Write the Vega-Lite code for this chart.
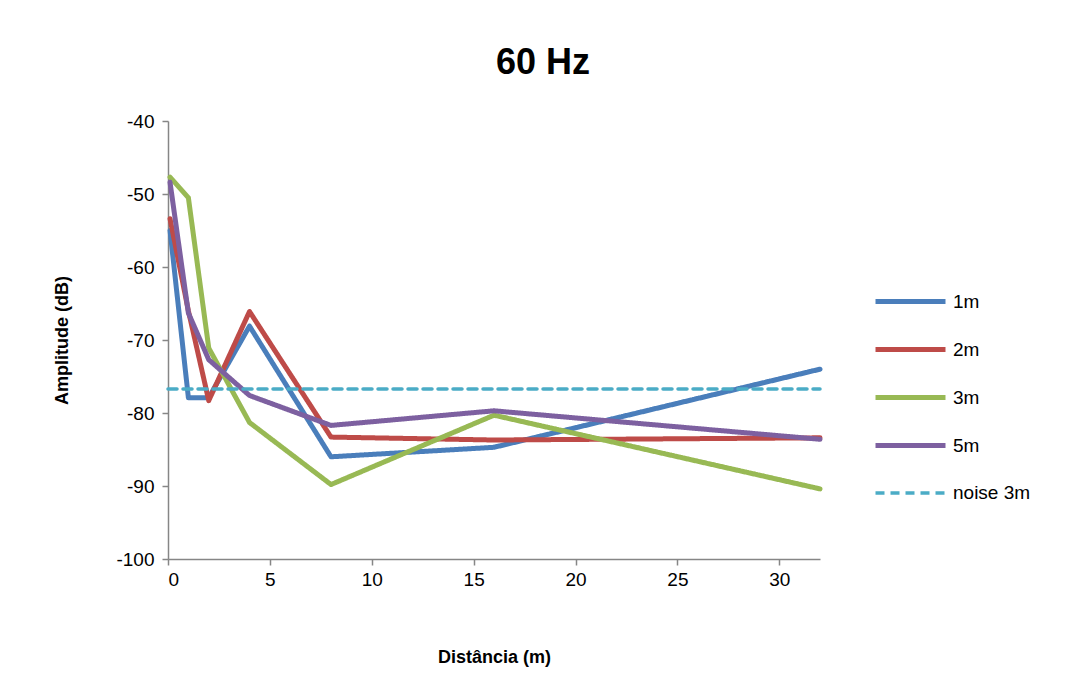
{
  "$schema": "https://vega.github.io/schema/vega-lite/v6.json",
  "autosize": "none",
  "width": 652,
  "height": 438,
  "padding": {"left": 168, "top": 121, "right": 250, "bottom": 138},
  "background": "white",
  "config": {
    "view": {"stroke": null},
    "font": "Liberation Sans"
  },
  "title": {
    "text": "60 Hz",
    "fontSize": 36,
    "fontWeight": "bold",
    "font": "Liberation Sans",
    "color": "#000000",
    "anchor": "middle",
    "dx": 49,
    "offset": 30
  },
  "data": {
    "values": [
      {"serie": "1m", "d": 0.1, "a": -55.0},
      {"serie": "1m", "d": 1, "a": -77.9},
      {"serie": "1m", "d": 2, "a": -77.9},
      {"serie": "1m", "d": 4, "a": -68.1},
      {"serie": "1m", "d": 8, "a": -86.0},
      {"serie": "1m", "d": 16, "a": -84.7},
      {"serie": "1m", "d": 32, "a": -74.0},
      {"serie": "2m", "d": 0.1, "a": -53.4},
      {"serie": "2m", "d": 1, "a": -66.0},
      {"serie": "2m", "d": 2, "a": -78.3},
      {"serie": "2m", "d": 4, "a": -66.1},
      {"serie": "2m", "d": 8, "a": -83.3},
      {"serie": "2m", "d": 16, "a": -83.7},
      {"serie": "2m", "d": 32, "a": -83.4},
      {"serie": "3m", "d": 0.1, "a": -47.7},
      {"serie": "3m", "d": 1, "a": -50.5},
      {"serie": "3m", "d": 2, "a": -71.1},
      {"serie": "3m", "d": 4, "a": -81.3},
      {"serie": "3m", "d": 8, "a": -89.8},
      {"serie": "3m", "d": 16, "a": -80.3},
      {"serie": "3m", "d": 32, "a": -90.4},
      {"serie": "5m", "d": 0.1, "a": -48.4},
      {"serie": "5m", "d": 1, "a": -66.3},
      {"serie": "5m", "d": 2, "a": -72.7},
      {"serie": "5m", "d": 4, "a": -77.6},
      {"serie": "5m", "d": 8, "a": -81.7},
      {"serie": "5m", "d": 16, "a": -79.7},
      {"serie": "5m", "d": 32, "a": -83.6},
      {"serie": "noise 3m", "d": 0, "a": -76.7},
      {"serie": "noise 3m", "d": 32, "a": -76.7}
    ]
  },
  "mark": {"type": "line", "strokeCap": "round", "strokeJoin": "round", "clip": false},
  "encoding": {
    "x": {
      "field": "d",
      "type": "quantitative",
      "scale": {"domain": [0, 32], "nice": false, "zero": false},
      "axis": {
        "title": "Distância (m)",
        "titleFontSize": 18,
        "titleFontWeight": "bold",
        "titleColor": "#000000",
        "titlePadding": 59,
        "values": [0, 5, 10, 15, 20, 25, 30],
        "grid": false,
        "domainColor": "#868686",
        "domainWidth": 1.5,
        "tickColor": "#868686",
        "tickWidth": 1.5,
        "tickSize": 6,
        "labelFontSize": 19,
        "labelColor": "#000000",
        "labelPadding": 5
      }
    },
    "y": {
      "field": "a",
      "type": "quantitative",
      "scale": {"domain": [-100, -40], "nice": false, "zero": false},
      "axis": {
        "title": "Amplitude (dB)",
        "titleFontSize": 18,
        "titleFontWeight": "bold",
        "titleColor": "#000000",
        "titlePadding": 44,
        "values": [-100, -90, -80, -70, -60, -50, -40],
        "labelExpr": "replace(datum.label, '\u2212', '-')",
        "grid": false,
        "domainColor": "#868686",
        "domainWidth": 1.5,
        "tickColor": "#868686",
        "tickWidth": 1.5,
        "tickSize": 6,
        "labelFontSize": 19,
        "labelColor": "#000000",
        "labelPadding": 8
      }
    },
    "color": {
      "field": "serie",
      "type": "nominal",
      "scale": {
        "domain": ["1m", "2m", "3m", "5m", "noise 3m"],
        "range": ["#4A7EBB", "#BE4B48", "#98B954", "#7D60A0", "#4BACC6"]
      },
      "legend": {
        "title": null,
        "orient": "none",
        "legendX": 705,
        "legendY": 143,
        "symbolType": "stroke",
        "symbolSize": 4900,
        "labelFontSize": 19,
        "labelColor": "#000000",
        "rowPadding": -22,
        "labelOffset": 5
      }
    },
    "strokeWidth": {
      "field": "serie",
      "type": "nominal",
      "scale": {
        "type": "ordinal",
        "domain": ["1m", "2m", "3m", "5m", "noise 3m"],
        "range": [5, 5, 5, 5, 3.5]
      }
    },
    "strokeDash": {
      "field": "serie",
      "type": "nominal",
      "scale": {
        "domain": ["1m", "2m", "3m", "5m", "noise 3m"],
        "range": [[1, 0], [1, 0], [1, 0], [1, 0], [9, 6]]
      }
    }
  }
}
